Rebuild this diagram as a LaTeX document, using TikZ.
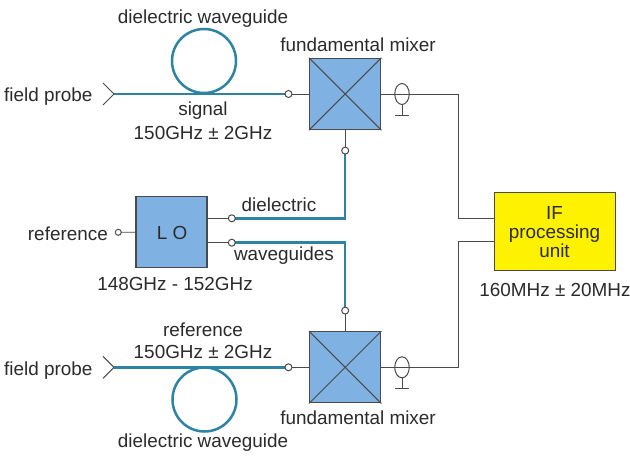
\documentclass[tikz,border=0pt]{standalone}
\usepackage{fontspec}
\setmainfont{Liberation Sans}
\usetikzlibrary{calc,shapes.geometric}
\definecolor{wg}{HTML}{2E83A3}
\definecolor{boxblue}{HTML}{7FB2E2}
\definecolor{ifyellow}{HTML}{FFF200}
\definecolor{wire}{HTML}{4A4A4A}
\definecolor{txt}{HTML}{2B2B2B}
\tikzset{
  x=1pt,y=-1pt,
  lbl/.style={inner sep=0pt,text=txt,font=\fontsize{18.9}{19}\selectfont,align=center},
  guide/.style={draw=wg,line width=2.5pt},
  thin wire/.style={draw=wire,line width=0.9pt},
  port/.style={circle,draw=wire,fill=white,line width=1pt,minimum size=7pt,inner sep=0pt},
  blockbox/.style={rectangle,draw=wire,fill=boxblue,line width=1.4pt,inner sep=0pt,minimum size=71pt},
  coax/.style={ellipse,draw=wire,line width=1pt,fill=none,minimum width=14.5pt,minimum height=21pt,inner sep=0pt}
}
\begin{document}
\begin{tikzpicture}
\useasboundingbox (0,0) rectangle (630,457);
\fill[white] (0,0) rectangle (630,457);
% blocks
\node[blockbox] (mixA) at (345.2,94) {};
\node[blockbox] (mixB) at (345.2,367.3) {};
\node[blockbox] (lo) at (171.4,232.2) {};
\node[rectangle,draw=wire,fill=ifyellow,line width=1pt,minimum width=121pt,minimum height=78pt,inner sep=0pt] (ifu) at (554.5,232) {};
\draw[wire,line width=1pt] (mixA.north west) -- (mixA.south east) (mixA.north east) -- (mixA.south west);
\draw[wire,line width=1pt] (mixB.north west) -- (mixB.south east) (mixB.north east) -- (mixB.south west);
% probes
\coordinate (tipa) at (114,94);
\coordinate (tipb) at (114,367.3);
\draw[wire,line width=1pt] (103,83) -- (tipa) -- (103,105);
\draw[wire,line width=1pt] (103,356.3) -- (tipb) -- (103,378.3);
% waveguides
\node[circle,draw=wg,line width=2.5pt,minimum size=64pt,inner sep=0pt] (loopa) at (204,61) {};
\node[circle,draw=wg,line width=2.5pt,minimum size=64pt,inner sep=0pt] (loopb) at (204.5,399.5) {};
% port positions
\coordinate (xa) at (288.5,94);
\coordinate (xb) at (288.5,367.3);
\coordinate (xc) at (345.2,150.6);
\coordinate (xd) at (345.2,310.6);
\coordinate (xe) at (231.8,218.3);
\coordinate (xf) at (231.8,242.7);
\draw[guide] (tipa) -- (xa);
\draw[guide] (tipb) -- (xb);
\draw[guide] (xc) -- (xc |- xe) -- (xe);
\draw[guide] (xf) -- (xd |- xf) -- (xd);
% thin wires
\draw[thin wire] (xa) -- (xa -| mixA.west);
\draw[thin wire] (xb) -- (xb -| mixB.west);
\draw[thin wire] (mixA.south) -- (xc);
\draw[thin wire] (mixB.north) -- (xd);
\draw[thin wire] (xe) -- (xe -| lo.east);
\draw[thin wire] (xf) -- (xf -| lo.east);
\coordinate (xg) at (118.3,232.3);
\draw[thin wire] (xg) -- (lo.west);
% ports
\node[port] (pa) at (xa) {};
\node[port] (pb) at (xb) {};
\node[port] (pc) at (xc) {};
\node[port] (pd) at (xd) {};
\node[port] (pe) at (xe) {};
\node[port] (pf) at (xf) {};
\node[port,minimum size=6pt] (pg) at (xg) {};
% outputs
\coordinate (ja) at (458.7,94);
\coordinate (jb) at (458.7,367.3);
\coordinate (ia) at (ifu.west |- 0,218);
\coordinate (ib) at (ifu.west |- 0,241);
\draw[thin wire] (mixA.east) -- (ja) -- (ja |- ia) -- (ia);
\draw[thin wire] (mixB.east) -- (jb) -- (jb |- ib) -- (ib);
% coax symbols
\node[coax] (ca) at (402,94) {};
\node[coax] (cb) at (402,367.3) {};
\coordinate (ga) at (402,115.3);
\coordinate (gb) at (402,388.6);
\draw[thin wire] (ca.south) -- (ga);
\draw[thin wire] (cb.south) -- (gb);
\draw[wire,line width=1pt] (395,115.3) -- (ga) -- (409,115.3);
\draw[wire,line width=1pt] (395,388.6) -- (gb) -- (409,388.6);
% labels
\node[lbl] (t1) at (203,18.5) {dielectric waveguide};
\node[lbl] (t2) at (358,45) {fundamental mixer};
\node[lbl,anchor=base west] (t3) at (4,102) {field probe};
\node[lbl] (t4) at (203,110.5) {signal};
\node[lbl] (t5) at (203,132.5) {150GHz ± 2GHz};
\node[lbl,anchor=base east] (t6) at (108,240.5) {reference};
\node[lbl] (t7) at (172,232.8) {L O};
\node[lbl] (t8) at (279,205) {dielectric};
\node[lbl] (t9) at (284,255.5) {waveguides};
\node[lbl] (t10) at (175,283.5) {148GHz - 152GHz};
\node[lbl] (t11) at (554.5,232.5) {IF\\processing\\unit};
\node[lbl] (t12) at (555,289.5) {160MHz ± 20MHz};
\node[lbl] (t13) at (203,329.5) {reference};
\node[lbl] (t14) at (203,352) {150GHz ± 2GHz};
\node[lbl,anchor=base west] (t15) at (4,376) {field probe};
\node[lbl] (t16) at (203,443) {dielectric waveguide};
\node[lbl] (t17) at (358,418) {fundamental mixer};
\end{tikzpicture}
\end{document}
